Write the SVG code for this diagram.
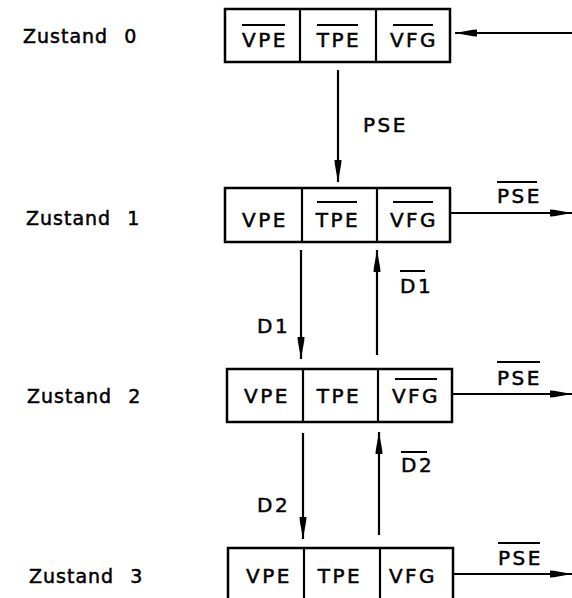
<svg xmlns="http://www.w3.org/2000/svg" width="572" height="598" viewBox="0 0 572 598">
  <style>
    .box { fill: #fff; stroke: #000; stroke-width: 2.5; }
    .div { stroke: #000; stroke-width: 2.2; }
    .bar { stroke: #000; stroke-width: 2; }
    .t { font-family: "DejaVu Sans", "Liberation Sans", sans-serif; font-size: 20px; letter-spacing: 2.5px; fill: #000; stroke: #000; stroke-width: 0.5px; }
    .c { text-anchor: middle; }
    .z { font-family: "DejaVu Sans", "Liberation Sans", sans-serif; font-size: 19px; letter-spacing: 1px; word-spacing: 9px; fill: #000; stroke: #000; stroke-width: 0.5px; }
    .con { stroke: #000; stroke-width: 2.2; fill: none; marker-end: url(#ah); }
  </style>
  <defs>
    <marker id="ah" markerUnits="userSpaceOnUse" viewBox="0 0 22 8" refX="22" refY="4" markerWidth="22" markerHeight="8" orient="auto">
      <path d="M0,0.5 L4,0.8 L22,4 L4,7.2 L0,7.5 Z" fill="#000"/>
    </marker>
  </defs>
  <rect width="572" height="598" fill="#fff"/>

  <g id="label0"><text class="z" x="23" y="43">Zustand 0</text></g>
  <g id="label1"><text class="z" x="26" y="225">Zustand 1</text></g>
  <g id="label2"><text class="z" x="27" y="403">Zustand 2</text></g>
  <g id="label3"><text class="z" x="29" y="583">Zustand 3</text></g>

  <g id="state0">
    <rect class="box" x="225" y="9" width="225" height="53"/>
    <line class="div" x1="300" y1="9" x2="300" y2="62"/>
    <line class="div" x1="376" y1="9" x2="376" y2="62"/>
    <text class="t c" x="265" y="47">VPE</text>
    <text class="t c" x="339" y="47">TPE</text>
    <text class="t c" x="414" y="47">VFG</text>
    <line class="bar" x1="242" y1="25" x2="285" y2="25"/>
    <line class="bar" x1="317" y1="25" x2="358" y2="25"/>
    <line class="bar" x1="393" y1="25" x2="433" y2="25"/>
  </g>

  <g id="state1">
    <rect class="box" x="225" y="188" width="225" height="54"/>
    <line class="div" x1="302" y1="188" x2="302" y2="242"/>
    <line class="div" x1="377" y1="188" x2="377" y2="242"/>
    <text class="t c" x="265" y="227">VPE</text>
    <text class="t c" x="338" y="227">TPE</text>
    <text class="t c" x="414" y="227">VFG</text>
    <line class="bar" x1="317" y1="202" x2="357" y2="202"/>
    <line class="bar" x1="393" y1="202" x2="433" y2="202"/>
  </g>

  <g id="state2">
    <rect class="box" x="227" y="369" width="225" height="53"/>
    <line class="div" x1="303" y1="369" x2="303" y2="422"/>
    <line class="div" x1="378" y1="369" x2="378" y2="422"/>
    <text class="t c" x="267" y="403">VPE</text>
    <text class="t c" x="339" y="403">TPE</text>
    <text class="t c" x="416" y="403">VFG</text>
    <line class="bar" x1="395" y1="379" x2="437" y2="379"/>
  </g>

  <g id="state3">
    <rect class="box" x="228" y="548" width="225" height="54"/>
    <line class="div" x1="304" y1="548" x2="304" y2="602"/>
    <line class="div" x1="380" y1="548" x2="380" y2="602"/>
    <text class="t c" x="269" y="583">VPE</text>
    <text class="t c" x="340" y="583">TPE</text>
    <text class="t c" x="413" y="583">VFG</text>
  </g>

  <g id="connectors">
    <line class="con" x1="572" y1="33" x2="455" y2="33"/>
    <line class="con" x1="338" y1="70" x2="338" y2="182"/>
    <text class="t" x="363" y="132">PSE</text>

    <line class="con" x1="450" y1="213" x2="572" y2="213"/>
    <text class="t" x="497" y="203">PSE</text>
    <line class="bar" x1="497" y1="182" x2="537" y2="182"/>

    <line class="con" x1="301" y1="250" x2="301" y2="359"/>
    <text class="t" x="257" y="333">D1</text>
    <line class="con" x1="377" y1="355" x2="377" y2="250"/>
    <text class="t" x="400" y="293">D1</text>
    <line class="bar" x1="400" y1="271" x2="425" y2="271"/>

    <line class="con" x1="452" y1="394" x2="572" y2="394"/>
    <text class="t" x="497" y="385">PSE</text>
    <line class="bar" x1="497" y1="362" x2="540" y2="362"/>

    <line class="con" x1="303" y1="433" x2="303" y2="539"/>
    <text class="t" x="257" y="512">D2</text>
    <line class="con" x1="379" y1="535" x2="379" y2="432"/>
    <text class="t" x="401" y="472">D2</text>
    <line class="bar" x1="401" y1="452" x2="427" y2="452"/>

    <line class="con" x1="453" y1="574" x2="572" y2="574"/>
    <text class="t" x="498" y="565">PSE</text>
    <line class="bar" x1="498" y1="543" x2="540" y2="543"/>
  </g>
</svg>
